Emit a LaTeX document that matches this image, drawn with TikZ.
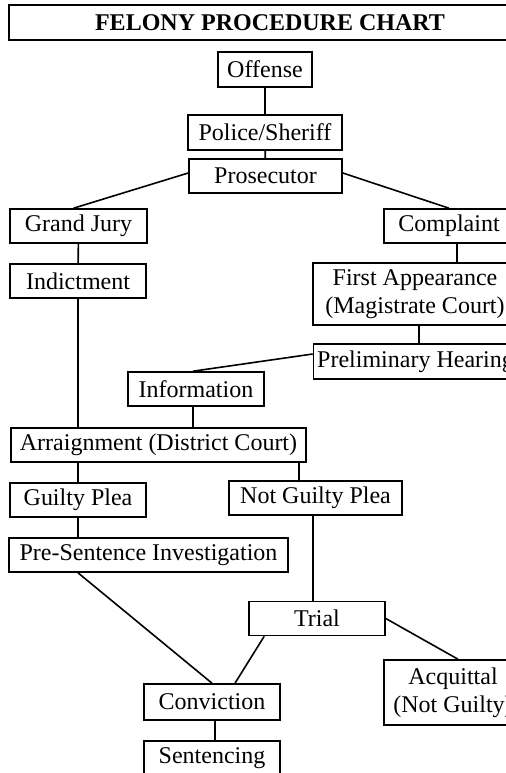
\documentclass[tikz,border=0pt]{standalone}
\usepackage{fontspec}
\setmainfont{Liberation Serif}
\usetikzlibrary{calc}
\tikzstyle{stage-box}=[
rectangle,
draw,
line width=0.8pt,
inner xsep=1pt,
inner ysep=1pt,
minimum height=17pt,
align=center,
font=\fontsize{12}{14}\selectfont,
]
\tikzstyle{link}=[line width=0.8pt]

\begin{document}
\begin{tikzpicture}
        [x=0.5pt, y=-0.5pt]
        \clip (0,0) rectangle (506,773);
        \node[stage-box, font=\fontsize{12}{14}\selectfont\bfseries,
          minimum width=261pt, minimum height=17.5pt] (title) at (270,22.5) {FELONY PROCEDURE CHART};

        \begin{scope}[every node/.style=stage-box]
          \node[minimum width=47pt, minimum height=17.5pt] (off) at (265,69.5) {Offense};
          \node[minimum width=77pt, minimum height=17.5pt] (pol) at (265,132.5) {Police/Sheriff};
          \node[minimum width=76.5pt] (pros) at (265.5,176) {Prosecutor};
          \node[minimum width=68.5pt] (gj) at (78.5,226) {Grand Jury};
          \node[minimum width=65pt] (comp) at (449,226) {Complaint};
          \node[minimum width=68pt] (ind) at (78,281) {Indictment};
          \node[minimum width=102pt, minimum height=31pt] (fa) at (415,294) {First Appearance\\(Magistrate Court)};
          \node[minimum width=102pt, minimum height=17.5pt] (prel) at (415.5,361.5) {Preliminary Hearing};
          \node[minimum width=68pt] (inf) at (196,389) {Information};
          \node[minimum width=147.5pt] (arr) at (158.5,445) {Arraignment (District Court)};
          \node[minimum width=68pt] (gp) at (78,500) {Guilty Plea};
          \node[minimum width=86.5pt] (ngp) at (315.5,498) {Not Guilty Plea};
          \node[minimum width=139.5pt] (psi) at (148.5,555) {Pre-Sentence Investigation};
          \node[minimum width=68pt] (trial) at (317,618.5) {Trial};
          \node[minimum width=69pt, minimum height=32.5pt] (acq) at (453,692.5) {Acquittal\\(Not Guilty)};
          \node[minimum width=68pt, minimum height=18pt] (conv) at (212,702) {Conviction};
          \node[minimum width=68pt] (sent) at (212,758) {Sentencing};
        \end{scope}

        \draw[link] (off) -- (pol);
        \draw[link] (pol) -- (pros);
        \draw[link] ([yshift=1.5pt]pros.west) -- ([xshift=-2.5pt]gj.north);
        \draw[link] ([yshift=1.5pt]pros.east) -- (comp.north);
        \draw[link] (gj) -- (ind);
        \draw[link] ([xshift=4pt]comp.south) -- ([xshift=4pt]comp.south |- fa.north);
        \draw[link] ([xshift=2pt]fa.south) -- ([xshift=2pt]fa.south |- prel.north);
        \draw[link] ([yshift=3.75pt]prel.west) -- ([xshift=-1.5pt]inf.north);
        \draw[link] (ind) -- (ind |- arr.north);
        \draw[link] ([xshift=-1.5pt]inf.south) -- ([xshift=-1.5pt]inf.south |- arr.north);
        \draw[link] (arr.south -| gp) -- (gp);
        \draw[link] ([xshift=-4pt]arr.south east) -- ([xshift=-4pt]arr.south east |- ngp.north);
        \draw[link] (gp) -- (gp |- psi.north);
        \draw[link] ([xshift=-1.25pt]ngp.south) -- ([xshift=-1.25pt]ngp.south |- trial.north);
        \draw[link] (psi.south -| gp) -- (conv.north);
        \draw[link] ([xshift=8pt]trial.south west) -- ([xshift=11.5pt]conv.north);
        \draw[link] (trial.east) -- ([xshift=2.5pt]acq.north);
        \draw[link] ([xshift=1.5pt]conv.south) -- ([xshift=1.5pt]conv.south |- sent.north);
      \end{tikzpicture}
\end{document}
